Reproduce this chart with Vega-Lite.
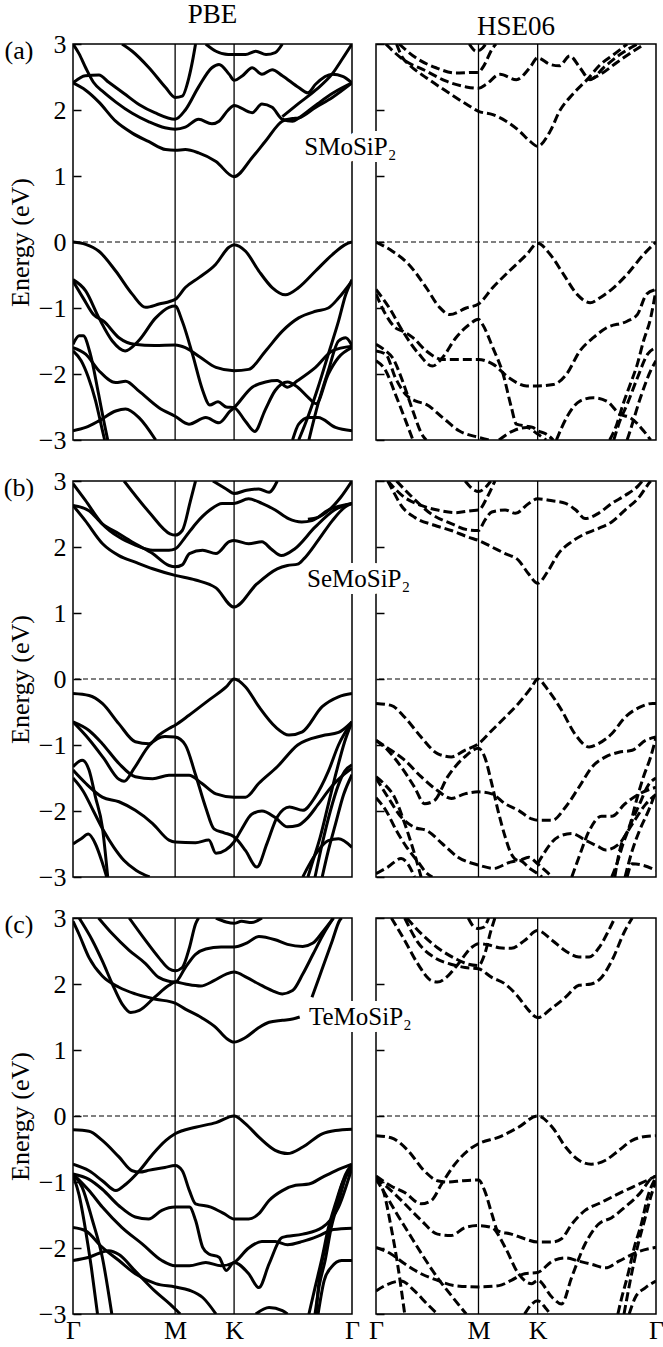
{
"$schema": "https://vega.github.io/schema/vega-lite/v6.json",
"background": "white",
"padding": {"left": 3, "top": 0, "right": 2, "bottom": 0},
"config": {
  "font": "Liberation Serif",
  "view": {"stroke": "black", "strokeWidth": 1.5},
  "title": {"fontSize": 27, "fontWeight": "normal", "font": "Liberation Serif", "color": "black", "offset": 2},
  "text": {"font": "Liberation Serif"},
  "style": {"guide-label": {"font": "Liberation Serif", "fill": "black"}, "guide-title": {"font": "Liberation Serif", "fill": "black"}},
  "axis": {"grid": false, "domain": false, "labelFont": "Liberation Serif", "titleFont": "Liberation Serif", "labelColor": "black", "titleColor": "black", "tickColor": "black", "labelFontSize": 26, "titleFontSize": 26, "titleFontWeight": "normal", "tickWidth": 1.5}
},
"datasets": {
  "kpts": [{"k": 1}, {"k": 1.5774}],
  "zero": [{"E": 0}],
  "tags": [{"row": "a", "t": "(a)", "k": 0, "E": 3}, {"row": "b", "t": "(b)", "k": 0, "E": 3}, {"row": "c", "t": "(c)", "k": 0, "E": 3}],
  "names": [{"row": "a", "t": "SMoSiP₂", "k": -0.70, "E": 1.44}, {"row": "b", "t": "SeMoSiP₂", "k": -0.673, "E": 1.52}, {"row": "c", "t": "TeMoSiP₂", "k": -0.654, "E": 1.50}],
  "bands": [
{"p":"aL","b":1,"k":0,"E":2.41},{"p":"aL","b":1,"k":0.124,"E":2.3},{"p":"aL","b":1,"k":0.254,"E":2.12},{"p":"aL","b":1,"k":0.418,"E":1.83},{"p":"aL","b":1,"k":0.58,"E":1.65},{"p":"aL","b":1,"k":0.744,"E":1.52},{"p":"aL","b":1,"k":0.907,"E":1.4},{"p":"aL","b":1,"k":1,"E":1.39},{"p":"aL","b":1,"k":1.1,"E":1.4},{"p":"aL","b":1,"k":1.23,"E":1.35},{"p":"aL","b":1,"k":1.4,"E":1.22},{"p":"aL","b":1,"k":1.577,"E":0.99},{"p":"aL","b":1,"k":1.755,"E":1.28},{"p":"aL","b":1,"k":1.886,"E":1.53},{"p":"aL","b":1,"k":2.05,"E":1.83},{"p":"aL","b":1,"k":2.15,"E":1.87},{"p":"aL","b":1,"k":2.21,"E":1.88},{"p":"aL","b":1,"k":2.375,"E":2.04},{"p":"aL","b":1,"k":2.54,"E":2.19},{"p":"aL","b":1,"k":2.732,"E":2.41},
{"p":"aL","b":2,"k":0,"E":3.0},{"p":"aL","b":2,"k":0.06,"E":2.85},{"p":"aL","b":2,"k":0.124,"E":2.64},{"p":"aL","b":2,"k":0.2,"E":2.42},{"p":"aL","b":2,"k":0.3,"E":2.27},{"p":"aL","b":2,"k":0.42,"E":2.12},{"p":"aL","b":2,"k":0.58,"E":1.95},{"p":"aL","b":2,"k":0.744,"E":1.82},{"p":"aL","b":2,"k":0.9,"E":1.73},{"p":"aL","b":2,"k":1,"E":1.71},{"p":"aL","b":2,"k":1.1,"E":1.74},{"p":"aL","b":2,"k":1.23,"E":1.86},{"p":"aL","b":2,"k":1.36,"E":1.79},{"p":"aL","b":2,"k":1.43,"E":1.83},{"p":"aL","b":2,"k":1.52,"E":2.0},{"p":"aL","b":2,"k":1.577,"E":2.07},{"p":"aL","b":2,"k":1.755,"E":1.96},{"p":"aL","b":2,"k":1.85,"E":2.09},{"p":"aL","b":2,"k":1.95,"E":2.04},{"p":"aL","b":2,"k":2.05,"E":1.86},{"p":"aL","b":2,"k":2.15,"E":1.83},{"p":"aL","b":2,"k":2.21,"E":1.88},{"p":"aL","b":2,"k":2.4,"E":2.1},{"p":"aL","b":2,"k":2.55,"E":2.26},{"p":"aL","b":2,"k":2.732,"E":2.41},
{"p":"aL","b":3,"k":0,"E":2.41},{"p":"aL","b":3,"k":0.12,"E":2.52},{"p":"aL","b":3,"k":0.254,"E":2.53},{"p":"aL","b":3,"k":0.35,"E":2.42},{"p":"aL","b":3,"k":0.5,"E":2.25},{"p":"aL","b":3,"k":0.65,"E":2.08},{"p":"aL","b":3,"k":0.8,"E":1.96},{"p":"aL","b":3,"k":1,"E":1.86},{"p":"aL","b":3,"k":1.1,"E":2.0},{"p":"aL","b":3,"k":1.23,"E":2.35},{"p":"aL","b":3,"k":1.36,"E":2.64},{"p":"aL","b":3,"k":1.43,"E":2.69},{"p":"aL","b":3,"k":1.53,"E":2.54},{"p":"aL","b":3,"k":1.577,"E":2.45},{"p":"aL","b":3,"k":1.66,"E":2.52},{"p":"aL","b":3,"k":1.755,"E":2.64},{"p":"aL","b":3,"k":1.85,"E":2.54},{"p":"aL","b":3,"k":1.95,"E":2.61},{"p":"aL","b":3,"k":2.05,"E":2.52},{"p":"aL","b":3,"k":2.21,"E":2.34},{"p":"aL","b":3,"k":2.3,"E":2.26},{"p":"aL","b":3,"k":2.375,"E":2.39},{"p":"aL","b":3,"k":2.54,"E":2.54},{"p":"aL","b":3,"k":2.64,"E":2.51},{"p":"aL","b":3,"k":2.732,"E":2.41},
{"p":"aL","b":4,"k":0.48,"E":3.0},{"p":"aL","b":4,"k":0.58,"E":2.89},{"p":"aL","b":4,"k":0.744,"E":2.64},{"p":"aL","b":4,"k":0.907,"E":2.34},{"p":"aL","b":4,"k":1,"E":2.19},{"p":"aL","b":4,"k":1.07,"E":2.21},{"p":"aL","b":4,"k":1.135,"E":2.49},{"p":"aL","b":4,"k":1.17,"E":2.74},{"p":"aL","b":4,"k":1.2,"E":3.0},
{"p":"aL","b":5,"k":1.3,"E":3.0},{"p":"aL","b":5,"k":1.4,"E":2.89},{"p":"aL","b":5,"k":1.52,"E":2.84},{"p":"aL","b":5,"k":1.577,"E":2.84},{"p":"aL","b":5,"k":1.69,"E":2.84},{"p":"aL","b":5,"k":1.79,"E":2.89},{"p":"aL","b":5,"k":1.89,"E":2.84},{"p":"aL","b":5,"k":1.98,"E":2.87},{"p":"aL","b":5,"k":2.05,"E":3.0},
{"p":"aL","b":6,"k":2.05,"E":1.9},{"p":"aL","b":6,"k":2.21,"E":2.1},{"p":"aL","b":6,"k":2.375,"E":2.3},{"p":"aL","b":6,"k":2.54,"E":2.55},{"p":"aL","b":6,"k":2.64,"E":2.78},{"p":"aL","b":6,"k":2.732,"E":3.0},
{"p":"aL","b":7,"k":0,"E":0},{"p":"aL","b":7,"k":0.124,"E":-0.035},{"p":"aL","b":7,"k":0.254,"E":-0.14},{"p":"aL","b":7,"k":0.418,"E":-0.44},{"p":"aL","b":7,"k":0.58,"E":-0.79},{"p":"aL","b":7,"k":0.711,"E":-0.99},{"p":"aL","b":7,"k":0.842,"E":-0.94},{"p":"aL","b":7,"k":1,"E":-0.87},{"p":"aL","b":7,"k":1.1,"E":-0.69},{"p":"aL","b":7,"k":1.233,"E":-0.54},{"p":"aL","b":7,"k":1.396,"E":-0.34},{"p":"aL","b":7,"k":1.527,"E":-0.08},{"p":"aL","b":7,"k":1.577,"E":-0.04},{"p":"aL","b":7,"k":1.69,"E":-0.14},{"p":"aL","b":7,"k":1.82,"E":-0.44},{"p":"aL","b":7,"k":1.95,"E":-0.69},{"p":"aL","b":7,"k":2.08,"E":-0.8},{"p":"aL","b":7,"k":2.21,"E":-0.69},{"p":"aL","b":7,"k":2.375,"E":-0.44},{"p":"aL","b":7,"k":2.54,"E":-0.19},{"p":"aL","b":7,"k":2.67,"E":-0.035},{"p":"aL","b":7,"k":2.732,"E":0},
{"p":"aL","b":8,"k":0,"E":-0.57},{"p":"aL","b":8,"k":0.124,"E":-0.74},{"p":"aL","b":8,"k":0.254,"E":-1.15},{"p":"aL","b":8,"k":0.385,"E":-1.5},{"p":"aL","b":8,"k":0.51,"E":-1.65},{"p":"aL","b":8,"k":0.64,"E":-1.5},{"p":"aL","b":8,"k":0.81,"E":-1.15},{"p":"aL","b":8,"k":0.94,"E":-0.99},{"p":"aL","b":8,"k":1,"E":-0.97},{"p":"aL","b":8,"k":1.07,"E":-1.2},{"p":"aL","b":8,"k":1.17,"E":-1.7},{"p":"aL","b":8,"k":1.27,"E":-2.25},{"p":"aL","b":8,"k":1.34,"E":-2.47},{"p":"aL","b":8,"k":1.42,"E":-2.42},{"p":"aL","b":8,"k":1.5,"E":-2.5},{"p":"aL","b":8,"k":1.577,"E":-2.51},{"p":"aL","b":8,"k":1.69,"E":-2.72},{"p":"aL","b":8,"k":1.78,"E":-2.87},{"p":"aL","b":8,"k":1.88,"E":-2.55},{"p":"aL","b":8,"k":1.98,"E":-2.25},{"p":"aL","b":8,"k":2.1,"E":-2.12},{"p":"aL","b":8,"k":2.2,"E":-2.2},{"p":"aL","b":8,"k":2.3,"E":-2.35},{"p":"aL","b":8,"k":2.38,"E":-2.45},{"p":"aL","b":8,"k":2.5,"E":-2.0},{"p":"aL","b":8,"k":2.6,"E":-1.75},{"p":"aL","b":8,"k":2.732,"E":-1.6},
{"p":"aL","b":9,"k":0,"E":-0.59},{"p":"aL","b":9,"k":0.1,"E":-0.85},{"p":"aL","b":9,"k":0.2,"E":-1.1},{"p":"aL","b":9,"k":0.3,"E":-1.2},{"p":"aL","b":9,"k":0.45,"E":-1.45},{"p":"aL","b":9,"k":0.6,"E":-1.55},{"p":"aL","b":9,"k":0.8,"E":-1.57},{"p":"aL","b":9,"k":1,"E":-1.56},{"p":"aL","b":9,"k":1.1,"E":-1.6},{"p":"aL","b":9,"k":1.25,"E":-1.75},{"p":"aL","b":9,"k":1.4,"E":-1.9},{"p":"aL","b":9,"k":1.577,"E":-1.95},{"p":"aL","b":9,"k":1.72,"E":-1.93},{"p":"aL","b":9,"k":1.886,"E":-1.65},{"p":"aL","b":9,"k":2.05,"E":-1.35},{"p":"aL","b":9,"k":2.21,"E":-1.15},{"p":"aL","b":9,"k":2.375,"E":-1.05},{"p":"aL","b":9,"k":2.5,"E":-1.0},{"p":"aL","b":9,"k":2.6,"E":-0.85},{"p":"aL","b":9,"k":2.732,"E":-0.59},
{"p":"aL","b":10,"k":0,"E":-1.6},{"p":"aL","b":10,"k":0.124,"E":-1.7},{"p":"aL","b":10,"k":0.254,"E":-1.95},{"p":"aL","b":10,"k":0.418,"E":-2.13},{"p":"aL","b":10,"k":0.515,"E":-2.11},{"p":"aL","b":10,"k":0.646,"E":-2.26},{"p":"aL","b":10,"k":0.842,"E":-2.51},{"p":"aL","b":10,"k":1,"E":-2.64},{"p":"aL","b":10,"k":1.135,"E":-2.76},{"p":"aL","b":10,"k":1.3,"E":-2.66},{"p":"aL","b":10,"k":1.43,"E":-2.74},{"p":"aL","b":10,"k":1.54,"E":-2.56},{"p":"aL","b":10,"k":1.577,"E":-2.51},{"p":"aL","b":10,"k":1.755,"E":-2.2},{"p":"aL","b":10,"k":1.886,"E":-2.12},{"p":"aL","b":10,"k":2,"E":-2.1},{"p":"aL","b":10,"k":2.1,"E":-2.2},{"p":"aL","b":10,"k":2.2,"E":-2.1},{"p":"aL","b":10,"k":2.375,"E":-1.9},{"p":"aL","b":10,"k":2.54,"E":-1.65},{"p":"aL","b":10,"k":2.732,"E":-1.58},
{"p":"aL","b":11,"k":0,"E":-1.55},{"p":"aL","b":11,"k":0.06,"E":-1.42},{"p":"aL","b":11,"k":0.1,"E":-1.42},{"p":"aL","b":11,"k":0.17,"E":-1.7},{"p":"aL","b":11,"k":0.25,"E":-2.3},{"p":"aL","b":11,"k":0.3,"E":-2.7},{"p":"aL","b":11,"k":0.34,"E":-3.0},
{"p":"aL","b":12,"k":0,"E":-1.65},{"p":"aL","b":12,"k":0.08,"E":-1.8},{"p":"aL","b":12,"k":0.15,"E":-2.05},{"p":"aL","b":12,"k":0.22,"E":-2.4},{"p":"aL","b":12,"k":0.28,"E":-2.8},{"p":"aL","b":12,"k":0.31,"E":-3.0},
{"p":"aL","b":13,"k":0,"E":-2.86},{"p":"aL","b":13,"k":0.124,"E":-2.81},{"p":"aL","b":13,"k":0.254,"E":-2.71},{"p":"aL","b":13,"k":0.418,"E":-2.56},{"p":"aL","b":13,"k":0.515,"E":-2.53},{"p":"aL","b":13,"k":0.646,"E":-2.66},{"p":"aL","b":13,"k":0.81,"E":-3.0},
{"p":"aL","b":14,"k":2.21,"E":-3.0},{"p":"aL","b":14,"k":2.3,"E":-2.65},{"p":"aL","b":14,"k":2.4,"E":-2.2},{"p":"aL","b":14,"k":2.5,"E":-1.7},{"p":"aL","b":14,"k":2.6,"E":-1.2},{"p":"aL","b":14,"k":2.67,"E":-0.8},{"p":"aL","b":14,"k":2.732,"E":-0.57},
{"p":"aL","b":15,"k":2.31,"E":-3.0},{"p":"aL","b":15,"k":2.4,"E":-2.45},{"p":"aL","b":15,"k":2.5,"E":-1.95},{"p":"aL","b":15,"k":2.6,"E":-1.5},{"p":"aL","b":15,"k":2.67,"E":-1.45},{"p":"aL","b":15,"k":2.732,"E":-1.57},
{"p":"aL","b":16,"k":2.15,"E":-3.0},{"p":"aL","b":16,"k":2.21,"E":-2.76},{"p":"aL","b":16,"k":2.31,"E":-2.66},{"p":"aL","b":16,"k":2.4,"E":-2.66},{"p":"aL","b":16,"k":2.57,"E":-2.81},{"p":"aL","b":16,"k":2.732,"E":-2.86},

{"p":"aR","b":1,"k":0.2,"E":3.0},{"p":"aR","b":1,"k":0.26,"E":2.79},{"p":"aR","b":1,"k":0.32,"E":2.69},{"p":"aR","b":1,"k":0.49,"E":2.49},{"p":"aR","b":1,"k":0.68,"E":2.29},{"p":"aR","b":1,"k":0.88,"E":2.09},{"p":"aR","b":1,"k":1,"E":1.98},{"p":"aR","b":1,"k":1.14,"E":1.93},{"p":"aR","b":1,"k":1.27,"E":1.83},{"p":"aR","b":1,"k":1.4,"E":1.68},{"p":"aR","b":1,"k":1.5,"E":1.53},{"p":"aR","b":1,"k":1.577,"E":1.45},{"p":"aR","b":1,"k":1.7,"E":1.68},{"p":"aR","b":1,"k":1.79,"E":1.98},{"p":"aR","b":1,"k":1.92,"E":2.24},{"p":"aR","b":1,"k":2.06,"E":2.46},{"p":"aR","b":1,"k":2.19,"E":2.69},{"p":"aR","b":1,"k":2.32,"E":2.84},{"p":"aR","b":1,"k":2.45,"E":3.0},
{"p":"aR","b":2,"k":0.095,"E":3.0},{"p":"aR","b":2,"k":0.26,"E":2.77},{"p":"aR","b":2,"k":0.49,"E":2.59},{"p":"aR","b":2,"k":0.68,"E":2.44},{"p":"aR","b":2,"k":0.88,"E":2.35},{"p":"aR","b":2,"k":1,"E":2.33},{"p":"aR","b":2,"k":1.075,"E":2.39},{"p":"aR","b":2,"k":1.21,"E":2.54},{"p":"aR","b":2,"k":1.37,"E":2.46},{"p":"aR","b":2,"k":1.5,"E":2.64},{"p":"aR","b":2,"k":1.577,"E":2.79},{"p":"aR","b":2,"k":1.7,"E":2.69},{"p":"aR","b":2,"k":1.79,"E":2.67},{"p":"aR","b":2,"k":1.89,"E":2.82},{"p":"aR","b":2,"k":1.99,"E":2.64},{"p":"aR","b":2,"k":2.09,"E":2.46},{"p":"aR","b":2,"k":2.22,"E":2.64},{"p":"aR","b":2,"k":2.38,"E":2.84},{"p":"aR","b":2,"k":2.55,"E":3.0},
{"p":"aR","b":3,"k":0.225,"E":3.0},{"p":"aR","b":3,"k":0.39,"E":2.79},{"p":"aR","b":3,"k":0.585,"E":2.64},{"p":"aR","b":3,"k":0.78,"E":2.56},{"p":"aR","b":3,"k":0.95,"E":2.57},{"p":"aR","b":3,"k":1,"E":2.57},{"p":"aR","b":3,"k":1.04,"E":2.64},{"p":"aR","b":3,"k":1.14,"E":2.94},{"p":"aR","b":3,"k":1.17,"E":3.0},
{"p":"aR","b":4,"k":0.91,"E":3.0},{"p":"aR","b":4,"k":0.98,"E":2.89},{"p":"aR","b":4,"k":1.04,"E":2.94},{"p":"aR","b":4,"k":1.07,"E":3.0},
{"p":"aR","b":5,"k":2.09,"E":2.46},{"p":"aR","b":5,"k":2.2,"E":2.55},{"p":"aR","b":5,"k":2.35,"E":2.72},{"p":"aR","b":5,"k":2.5,"E":2.88},{"p":"aR","b":5,"k":2.62,"E":3.0},
{"p":"aR","b":6,"k":0,"E":0},{"p":"aR","b":6,"k":0.16,"E":-0.14},{"p":"aR","b":6,"k":0.32,"E":-0.34},{"p":"aR","b":6,"k":0.49,"E":-0.69},{"p":"aR","b":6,"k":0.62,"E":-0.99},{"p":"aR","b":6,"k":0.72,"E":-1.1},{"p":"aR","b":6,"k":0.88,"E":-1.0},{"p":"aR","b":6,"k":1,"E":-0.94},{"p":"aR","b":6,"k":1.14,"E":-0.69},{"p":"aR","b":6,"k":1.3,"E":-0.44},{"p":"aR","b":6,"k":1.47,"E":-0.19},{"p":"aR","b":6,"k":1.577,"E":-0.02},{"p":"aR","b":6,"k":1.7,"E":-0.19},{"p":"aR","b":6,"k":1.83,"E":-0.49},{"p":"aR","b":6,"k":1.96,"E":-0.79},{"p":"aR","b":6,"k":2.09,"E":-0.92},{"p":"aR","b":6,"k":2.19,"E":-0.84},{"p":"aR","b":6,"k":2.32,"E":-0.69},{"p":"aR","b":6,"k":2.45,"E":-0.49},{"p":"aR","b":6,"k":2.61,"E":-0.19},{"p":"aR","b":6,"k":2.732,"E":0},
{"p":"aR","b":7,"k":0,"E":-0.72},{"p":"aR","b":7,"k":0.13,"E":-1.0},{"p":"aR","b":7,"k":0.26,"E":-1.35},{"p":"aR","b":7,"k":0.42,"E":-1.7},{"p":"aR","b":7,"k":0.55,"E":-1.88},{"p":"aR","b":7,"k":0.65,"E":-1.75},{"p":"aR","b":7,"k":0.78,"E":-1.45},{"p":"aR","b":7,"k":0.91,"E":-1.25},{"p":"aR","b":7,"k":1,"E":-1.17},{"p":"aR","b":7,"k":1.04,"E":-1.25},{"p":"aR","b":7,"k":1.14,"E":-1.6},{"p":"aR","b":7,"k":1.24,"E":-2.0},{"p":"aR","b":7,"k":1.32,"E":-2.5},{"p":"aR","b":7,"k":1.37,"E":-2.76},{"p":"aR","b":7,"k":1.47,"E":-2.79},{"p":"aR","b":7,"k":1.53,"E":-2.81},{"p":"aR","b":7,"k":1.577,"E":-2.86},{"p":"aR","b":7,"k":1.66,"E":-2.91},{"p":"aR","b":7,"k":1.73,"E":-3.0},
{"p":"aR","b":8,"k":0,"E":-0.79},{"p":"aR","b":8,"k":0.095,"E":-1.1},{"p":"aR","b":8,"k":0.19,"E":-1.3},{"p":"aR","b":8,"k":0.26,"E":-1.35},{"p":"aR","b":8,"k":0.36,"E":-1.45},{"p":"aR","b":8,"k":0.49,"E":-1.65},{"p":"aR","b":8,"k":0.65,"E":-1.78},{"p":"aR","b":8,"k":0.81,"E":-1.78},{"p":"aR","b":8,"k":1,"E":-1.78},{"p":"aR","b":8,"k":1.14,"E":-1.85},{"p":"aR","b":8,"k":1.3,"E":-2.06},{"p":"aR","b":8,"k":1.47,"E":-2.18},{"p":"aR","b":8,"k":1.577,"E":-2.18},{"p":"aR","b":8,"k":1.73,"E":-2.16},{"p":"aR","b":8,"k":1.86,"E":-2.0},{"p":"aR","b":8,"k":1.99,"E":-1.65},{"p":"aR","b":8,"k":2.12,"E":-1.45},{"p":"aR","b":8,"k":2.25,"E":-1.3},{"p":"aR","b":8,"k":2.45,"E":-1.2},{"p":"aR","b":8,"k":2.55,"E":-1.1},{"p":"aR","b":8,"k":2.64,"E":-0.79},{"p":"aR","b":8,"k":2.732,"E":-0.72},
{"p":"aR","b":9,"k":0,"E":-1.65},{"p":"aR","b":9,"k":0.095,"E":-1.7},{"p":"aR","b":9,"k":0.19,"E":-2.06},{"p":"aR","b":9,"k":0.29,"E":-2.31},{"p":"aR","b":9,"k":0.39,"E":-2.41},{"p":"aR","b":9,"k":0.49,"E":-2.46},{"p":"aR","b":9,"k":0.65,"E":-2.66},{"p":"aR","b":9,"k":0.81,"E":-2.86},{"p":"aR","b":9,"k":1,"E":-2.96},{"p":"aR","b":9,"k":1.1,"E":-3.0},
{"p":"aR","b":10,"k":0,"E":-1.55},{"p":"aR","b":10,"k":0.095,"E":-1.65},{"p":"aR","b":10,"k":0.16,"E":-1.75},{"p":"aR","b":10,"k":0.26,"E":-2.11},{"p":"aR","b":10,"k":0.36,"E":-2.56},{"p":"aR","b":10,"k":0.45,"E":-2.92},{"p":"aR","b":10,"k":0.49,"E":-3.0},
{"p":"aR","b":11,"k":0,"E":-1.8},{"p":"aR","b":11,"k":0.095,"E":-1.95},{"p":"aR","b":11,"k":0.19,"E":-2.31},{"p":"aR","b":11,"k":0.29,"E":-2.71},{"p":"aR","b":11,"k":0.36,"E":-3.0},
{"p":"aR","b":12,"k":2.32,"E":-3.0},{"p":"aR","b":12,"k":2.38,"E":-2.71},{"p":"aR","b":12,"k":2.45,"E":-2.46},{"p":"aR","b":12,"k":2.55,"E":-2.06},{"p":"aR","b":12,"k":2.65,"E":-1.7},{"p":"aR","b":12,"k":2.732,"E":-1.6},
{"p":"aR","b":13,"k":2.45,"E":-3.0},{"p":"aR","b":13,"k":2.48,"E":-2.86},{"p":"aR","b":13,"k":2.58,"E":-2.36},{"p":"aR","b":13,"k":2.68,"E":-1.95},{"p":"aR","b":13,"k":2.732,"E":-1.8},
{"p":"aR","b":14,"k":2.28,"E":-3.0},{"p":"aR","b":14,"k":2.35,"E":-2.76},{"p":"aR","b":14,"k":2.41,"E":-2.46},{"p":"aR","b":14,"k":2.48,"E":-2.16},{"p":"aR","b":14,"k":2.55,"E":-1.85},{"p":"aR","b":14,"k":2.61,"E":-1.5},{"p":"aR","b":14,"k":2.68,"E":-1.15},{"p":"aR","b":14,"k":2.732,"E":-0.72},
{"p":"aR","b":15,"k":1.76,"E":-3.0},{"p":"aR","b":15,"k":1.86,"E":-2.66},{"p":"aR","b":15,"k":1.99,"E":-2.41},{"p":"aR","b":15,"k":2.12,"E":-2.36},{"p":"aR","b":15,"k":2.25,"E":-2.41},{"p":"aR","b":15,"k":2.38,"E":-2.61},{"p":"aR","b":15,"k":2.48,"E":-2.66},{"p":"aR","b":15,"k":2.61,"E":-2.86},{"p":"aR","b":15,"k":2.68,"E":-3.0},
{"p":"aR","b":16,"k":1.2,"E":-3.0},{"p":"aR","b":16,"k":1.34,"E":-2.86},{"p":"aR","b":16,"k":1.47,"E":-2.81},{"p":"aR","b":16,"k":1.577,"E":-2.91},{"p":"aR","b":16,"k":1.66,"E":-3.0},

{"p":"bL","b":1,"k":0,"E":2.63},{"p":"bL","b":1,"k":0.12,"E":2.4},{"p":"bL","b":1,"k":0.29,"E":2.05},{"p":"bL","b":1,"k":0.45,"E":1.87},{"p":"bL","b":1,"k":0.61,"E":1.77},{"p":"bL","b":1,"k":0.78,"E":1.67},{"p":"bL","b":1,"k":1,"E":1.57},{"p":"bL","b":1,"k":1.2,"E":1.5},{"p":"bL","b":1,"k":1.4,"E":1.38},{"p":"bL","b":1,"k":1.577,"E":1.09},{"p":"bL","b":1,"k":1.8,"E":1.44},{"p":"bL","b":1,"k":2,"E":1.67},{"p":"bL","b":1,"k":2.1,"E":1.72},{"p":"bL","b":1,"k":2.2,"E":1.74},{"p":"bL","b":1,"k":2.26,"E":1.82},{"p":"bL","b":1,"k":2.4,"E":2.1},{"p":"bL","b":1,"k":2.54,"E":2.4},{"p":"bL","b":1,"k":2.66,"E":2.6},{"p":"bL","b":1,"k":2.732,"E":2.66},
{"p":"bL","b":2,"k":0,"E":2.63},{"p":"bL","b":2,"k":0.157,"E":2.55},{"p":"bL","b":2,"k":0.287,"E":2.35},{"p":"bL","b":2,"k":0.45,"E":2.2},{"p":"bL","b":2,"k":0.61,"E":2.05},{"p":"bL","b":2,"k":0.78,"E":1.9},{"p":"bL","b":2,"k":0.94,"E":1.72},{"p":"bL","b":2,"k":1,"E":1.7},{"p":"bL","b":2,"k":1.07,"E":1.73},{"p":"bL","b":2,"k":1.14,"E":1.9},{"p":"bL","b":2,"k":1.27,"E":1.95},{"p":"bL","b":2,"k":1.4,"E":1.9},{"p":"bL","b":2,"k":1.53,"E":2.08},{"p":"bL","b":2,"k":1.577,"E":2.1},{"p":"bL","b":2,"k":1.72,"E":2.05},{"p":"bL","b":2,"k":1.85,"E":2.08},{"p":"bL","b":2,"k":1.94,"E":1.97},{"p":"bL","b":2,"k":2.04,"E":1.87},{"p":"bL","b":2,"k":2.17,"E":1.97},{"p":"bL","b":2,"k":2.37,"E":2.3},{"p":"bL","b":2,"k":2.56,"E":2.56},{"p":"bL","b":2,"k":2.732,"E":2.66},
{"p":"bL","b":3,"k":0,"E":2.96},{"p":"bL","b":3,"k":0.12,"E":2.71},{"p":"bL","b":3,"k":0.287,"E":2.35},{"p":"bL","b":3,"k":0.45,"E":2.15},{"p":"bL","b":3,"k":0.61,"E":2.03},{"p":"bL","b":3,"k":0.78,"E":1.95},{"p":"bL","b":3,"k":0.94,"E":1.95},{"p":"bL","b":3,"k":1,"E":1.97},{"p":"bL","b":3,"k":1.1,"E":2.15},{"p":"bL","b":3,"k":1.2,"E":2.35},{"p":"bL","b":3,"k":1.34,"E":2.56},{"p":"bL","b":3,"k":1.46,"E":2.66},{"p":"bL","b":3,"k":1.577,"E":2.66},{"p":"bL","b":3,"k":1.72,"E":2.73},{"p":"bL","b":3,"k":1.85,"E":2.66},{"p":"bL","b":3,"k":1.98,"E":2.56},{"p":"bL","b":3,"k":2.11,"E":2.43},{"p":"bL","b":3,"k":2.24,"E":2.38},{"p":"bL","b":3,"k":2.34,"E":2.4},{"p":"bL","b":3,"k":2.5,"E":2.56},{"p":"bL","b":3,"k":2.732,"E":2.66},
{"p":"bL","b":4,"k":0.5,"E":3.0},{"p":"bL","b":4,"k":0.75,"E":2.52},{"p":"bL","b":4,"k":0.95,"E":2.2},{"p":"bL","b":4,"k":1,"E":2.18},{"p":"bL","b":4,"k":1.07,"E":2.25},{"p":"bL","b":4,"k":1.15,"E":2.7},{"p":"bL","b":4,"k":1.2,"E":3.0},
{"p":"bL","b":5,"k":1.37,"E":3.0},{"p":"bL","b":5,"k":1.5,"E":2.88},{"p":"bL","b":5,"k":1.577,"E":2.81},{"p":"bL","b":5,"k":1.7,"E":2.86},{"p":"bL","b":5,"k":1.82,"E":2.88},{"p":"bL","b":5,"k":1.92,"E":2.83},{"p":"bL","b":5,"k":2,"E":3.0},
{"p":"bL","b":6,"k":2.3,"E":2.42},{"p":"bL","b":6,"k":2.4,"E":2.45},{"p":"bL","b":6,"k":2.5,"E":2.55},{"p":"bL","b":6,"k":2.62,"E":2.75},{"p":"bL","b":6,"k":2.732,"E":3.0},
{"p":"bL","b":7,"k":0,"E":-0.22},{"p":"bL","b":7,"k":0.157,"E":-0.25},{"p":"bL","b":7,"k":0.287,"E":-0.37},{"p":"bL","b":7,"k":0.45,"E":-0.68},{"p":"bL","b":7,"k":0.61,"E":-0.95},{"p":"bL","b":7,"k":0.744,"E":-0.98},{"p":"bL","b":7,"k":0.84,"E":-0.85},{"p":"bL","b":7,"k":0.94,"E":-0.75},{"p":"bL","b":7,"k":1,"E":-0.7},{"p":"bL","b":7,"k":1.136,"E":-0.55},{"p":"bL","b":7,"k":1.33,"E":-0.32},{"p":"bL","b":7,"k":1.5,"E":-0.12},{"p":"bL","b":7,"k":1.577,"E":0},{"p":"bL","b":7,"k":1.69,"E":-0.12},{"p":"bL","b":7,"k":1.82,"E":-0.42},{"p":"bL","b":7,"k":1.985,"E":-0.73},{"p":"bL","b":7,"k":2.115,"E":-0.85},{"p":"bL","b":7,"k":2.246,"E":-0.8},{"p":"bL","b":7,"k":2.44,"E":-0.42},{"p":"bL","b":7,"k":2.6,"E":-0.27},{"p":"bL","b":7,"k":2.732,"E":-0.22},
{"p":"bL","b":8,"k":0,"E":-0.65},{"p":"bL","b":8,"k":0.16,"E":-0.92},{"p":"bL","b":8,"k":0.3,"E":-1.2},{"p":"bL","b":8,"k":0.45,"E":-1.52},{"p":"bL","b":8,"k":0.5,"E":-1.55},{"p":"bL","b":8,"k":0.6,"E":-1.35},{"p":"bL","b":8,"k":0.75,"E":-1.0},{"p":"bL","b":8,"k":0.9,"E":-0.87},{"p":"bL","b":8,"k":1,"E":-0.88},{"p":"bL","b":8,"k":1.1,"E":-1.0},{"p":"bL","b":8,"k":1.2,"E":-1.45},{"p":"bL","b":8,"k":1.3,"E":-1.95},{"p":"bL","b":8,"k":1.38,"E":-2.27},{"p":"bL","b":8,"k":1.48,"E":-2.33},{"p":"bL","b":8,"k":1.577,"E":-2.39},{"p":"bL","b":8,"k":1.69,"E":-2.6},{"p":"bL","b":8,"k":1.8,"E":-2.85},{"p":"bL","b":8,"k":1.9,"E":-2.49},{"p":"bL","b":8,"k":2,"E":-2.09},{"p":"bL","b":8,"k":2.12,"E":-1.94},{"p":"bL","b":8,"k":2.25,"E":-1.99},{"p":"bL","b":8,"k":2.37,"E":-1.79},{"p":"bL","b":8,"k":2.5,"E":-1.4},{"p":"bL","b":8,"k":2.6,"E":-1.0},{"p":"bL","b":8,"k":2.732,"E":-0.65},
{"p":"bL","b":9,"k":0,"E":-0.65},{"p":"bL","b":9,"k":0.157,"E":-0.78},{"p":"bL","b":9,"k":0.287,"E":-0.98},{"p":"bL","b":9,"k":0.45,"E":-1.28},{"p":"bL","b":9,"k":0.61,"E":-1.48},{"p":"bL","b":9,"k":0.78,"E":-1.51},{"p":"bL","b":9,"k":0.94,"E":-1.46},{"p":"bL","b":9,"k":1,"E":-1.46},{"p":"bL","b":9,"k":1.136,"E":-1.46},{"p":"bL","b":9,"k":1.26,"E":-1.58},{"p":"bL","b":9,"k":1.4,"E":-1.74},{"p":"bL","b":9,"k":1.577,"E":-1.79},{"p":"bL","b":9,"k":1.69,"E":-1.79},{"p":"bL","b":9,"k":1.82,"E":-1.58},{"p":"bL","b":9,"k":2,"E":-1.33},{"p":"bL","b":9,"k":2.2,"E":-1.0},{"p":"bL","b":9,"k":2.44,"E":-0.86},{"p":"bL","b":9,"k":2.6,"E":-0.81},{"p":"bL","b":9,"k":2.732,"E":-0.65},
{"p":"bL","b":10,"k":0,"E":-1.33},{"p":"bL","b":10,"k":0.09,"E":-1.23},{"p":"bL","b":10,"k":0.157,"E":-1.38},{"p":"bL","b":10,"k":0.22,"E":-1.79},{"p":"bL","b":10,"k":0.287,"E":-2.24},{"p":"bL","b":10,"k":0.34,"E":-3.0},
{"p":"bL","b":11,"k":0,"E":-1.38},{"p":"bL","b":11,"k":0.124,"E":-1.58},{"p":"bL","b":11,"k":0.287,"E":-1.79},{"p":"bL","b":11,"k":0.45,"E":-1.86},{"p":"bL","b":11,"k":0.61,"E":-1.99},{"p":"bL","b":11,"k":0.78,"E":-2.19},{"p":"bL","b":11,"k":0.94,"E":-2.44},{"p":"bL","b":11,"k":1,"E":-2.47},{"p":"bL","b":11,"k":1.2,"E":-2.48},{"p":"bL","b":11,"k":1.33,"E":-2.44},{"p":"bL","b":11,"k":1.4,"E":-2.64},{"p":"bL","b":11,"k":1.495,"E":-2.59},{"p":"bL","b":11,"k":1.577,"E":-2.47},{"p":"bL","b":11,"k":1.65,"E":-2.28},{"p":"bL","b":11,"k":1.75,"E":-2.05},{"p":"bL","b":11,"k":1.85,"E":-2.0},{"p":"bL","b":11,"k":1.98,"E":-2.1},{"p":"bL","b":11,"k":2.1,"E":-2.24},{"p":"bL","b":11,"k":2.2,"E":-2.22},{"p":"bL","b":11,"k":2.3,"E":-2.1},{"p":"bL","b":11,"k":2.4,"E":-1.9},{"p":"bL","b":11,"k":2.55,"E":-1.6},{"p":"bL","b":11,"k":2.65,"E":-1.45},{"p":"bL","b":11,"k":2.732,"E":-1.35},
{"p":"bL","b":12,"k":0,"E":-1.5},{"p":"bL","b":12,"k":0.1,"E":-1.7},{"p":"bL","b":12,"k":0.2,"E":-2.0},{"p":"bL","b":12,"k":0.3,"E":-2.3},{"p":"bL","b":12,"k":0.4,"E":-2.55},{"p":"bL","b":12,"k":0.5,"E":-2.75},{"p":"bL","b":12,"k":0.62,"E":-2.9},{"p":"bL","b":12,"k":0.75,"E":-3.0},
{"p":"bL","b":13,"k":0,"E":-2.5},{"p":"bL","b":13,"k":0.08,"E":-2.42},{"p":"bL","b":13,"k":0.15,"E":-2.35},{"p":"bL","b":13,"k":0.22,"E":-2.5},{"p":"bL","b":13,"k":0.28,"E":-2.75},{"p":"bL","b":13,"k":0.33,"E":-3.0},
{"p":"bL","b":14,"k":2.3,"E":-3.0},{"p":"bL","b":14,"k":2.34,"E":-2.8},{"p":"bL","b":14,"k":2.42,"E":-2.4},{"p":"bL","b":14,"k":2.5,"E":-1.9},{"p":"bL","b":14,"k":2.58,"E":-1.4},{"p":"bL","b":14,"k":2.66,"E":-0.95},{"p":"bL","b":14,"k":2.732,"E":-0.65},
{"p":"bL","b":15,"k":2.37,"E":-3.0},{"p":"bL","b":15,"k":2.44,"E":-2.5},{"p":"bL","b":15,"k":2.52,"E":-2.0},{"p":"bL","b":15,"k":2.6,"E":-1.6},{"p":"bL","b":15,"k":2.66,"E":-1.4},{"p":"bL","b":15,"k":2.732,"E":-1.3},
{"p":"bL","b":16,"k":2.44,"E":-3.0},{"p":"bL","b":16,"k":2.5,"E":-2.6},{"p":"bL","b":16,"k":2.57,"E":-2.2},{"p":"bL","b":16,"k":2.65,"E":-1.75},{"p":"bL","b":16,"k":2.732,"E":-1.45},
{"p":"bL","b":17,"k":2.25,"E":-3.0},{"p":"bL","b":17,"k":2.3,"E":-2.85},{"p":"bL","b":17,"k":2.4,"E":-2.6},{"p":"bL","b":17,"k":2.5,"E":-2.45},{"p":"bL","b":17,"k":2.6,"E":-2.42},{"p":"bL","b":17,"k":2.732,"E":-2.55},

{"p":"bR","b":1,"k":0.115,"E":3.0},{"p":"bR","b":1,"k":0.18,"E":2.81},{"p":"bR","b":1,"k":0.245,"E":2.63},{"p":"bR","b":1,"k":0.376,"E":2.45},{"p":"bR","b":1,"k":0.57,"E":2.33},{"p":"bR","b":1,"k":0.735,"E":2.25},{"p":"bR","b":1,"k":0.9,"E":2.15},{"p":"bR","b":1,"k":1,"E":2.1},{"p":"bR","b":1,"k":1.13,"E":2.0},{"p":"bR","b":1,"k":1.26,"E":1.9},{"p":"bR","b":1,"k":1.39,"E":1.8},{"p":"bR","b":1,"k":1.49,"E":1.59},{"p":"bR","b":1,"k":1.577,"E":1.45},{"p":"bR","b":1,"k":1.68,"E":1.64},{"p":"bR","b":1,"k":1.78,"E":1.9},{"p":"bR","b":1,"k":1.91,"E":2.08},{"p":"bR","b":1,"k":2.04,"E":2.2},{"p":"bR","b":1,"k":2.17,"E":2.28},{"p":"bR","b":1,"k":2.3,"E":2.38},{"p":"bR","b":1,"k":2.43,"E":2.56},{"p":"bR","b":1,"k":2.57,"E":2.76},{"p":"bR","b":1,"k":2.66,"E":2.96},{"p":"bR","b":1,"k":2.68,"E":3.0},
{"p":"bR","b":2,"k":0.2,"E":3.0},{"p":"bR","b":2,"k":0.35,"E":2.76},{"p":"bR","b":2,"k":0.54,"E":2.5},{"p":"bR","b":2,"k":0.74,"E":2.35},{"p":"bR","b":2,"k":0.9,"E":2.26},{"p":"bR","b":2,"k":1,"E":2.25},{"p":"bR","b":2,"k":1.06,"E":2.4},{"p":"bR","b":2,"k":1.13,"E":2.53},{"p":"bR","b":2,"k":1.26,"E":2.56},{"p":"bR","b":2,"k":1.36,"E":2.51},{"p":"bR","b":2,"k":1.49,"E":2.66},{"p":"bR","b":2,"k":1.577,"E":2.73},{"p":"bR","b":2,"k":1.72,"E":2.7},{"p":"bR","b":2,"k":1.85,"E":2.66},{"p":"bR","b":2,"k":1.95,"E":2.56},{"p":"bR","b":2,"k":2.04,"E":2.43},{"p":"bR","b":2,"k":2.17,"E":2.51},{"p":"bR","b":2,"k":2.3,"E":2.66},{"p":"bR","b":2,"k":2.43,"E":2.78},{"p":"bR","b":2,"k":2.56,"E":2.93},{"p":"bR","b":2,"k":2.6,"E":3.0},
{"p":"bR","b":3,"k":0.115,"E":3.0},{"p":"bR","b":3,"k":0.28,"E":2.75},{"p":"bR","b":3,"k":0.44,"E":2.63},{"p":"bR","b":3,"k":0.6,"E":2.56},{"p":"bR","b":3,"k":0.77,"E":2.52},{"p":"bR","b":3,"k":0.93,"E":2.55},{"p":"bR","b":3,"k":1,"E":2.56},{"p":"bR","b":3,"k":1.09,"E":2.77},{"p":"bR","b":3,"k":1.16,"E":3.0},
{"p":"bR","b":4,"k":0.87,"E":3.0},{"p":"bR","b":4,"k":0.96,"E":2.86},{"p":"bR","b":4,"k":1,"E":2.84},{"p":"bR","b":4,"k":1.06,"E":2.89},{"p":"bR","b":4,"k":1.12,"E":3.0},
{"p":"bR","b":5,"k":0,"E":-0.37},{"p":"bR","b":5,"k":0.147,"E":-0.4},{"p":"bR","b":5,"k":0.28,"E":-0.58},{"p":"bR","b":5,"k":0.44,"E":-0.88},{"p":"bR","b":5,"k":0.6,"E":-1.13},{"p":"bR","b":5,"k":0.735,"E":-1.18},{"p":"bR","b":5,"k":0.866,"E":-1.08},{"p":"bR","b":5,"k":1,"E":-0.98},{"p":"bR","b":5,"k":1.13,"E":-0.78},{"p":"bR","b":5,"k":1.26,"E":-0.58},{"p":"bR","b":5,"k":1.39,"E":-0.37},{"p":"bR","b":5,"k":1.52,"E":-0.12},{"p":"bR","b":5,"k":1.577,"E":0},{"p":"bR","b":5,"k":1.68,"E":-0.17},{"p":"bR","b":5,"k":1.81,"E":-0.47},{"p":"bR","b":5,"k":1.94,"E":-0.83},{"p":"bR","b":5,"k":2.08,"E":-1.03},{"p":"bR","b":5,"k":2.17,"E":-0.98},{"p":"bR","b":5,"k":2.3,"E":-0.83},{"p":"bR","b":5,"k":2.43,"E":-0.58},{"p":"bR","b":5,"k":2.57,"E":-0.43},{"p":"bR","b":5,"k":2.7,"E":-0.37},{"p":"bR","b":5,"k":2.732,"E":-0.37},
{"p":"bR","b":6,"k":0,"E":-0.93},{"p":"bR","b":6,"k":0.115,"E":-1.08},{"p":"bR","b":6,"k":0.245,"E":-1.33},{"p":"bR","b":6,"k":0.376,"E":-1.64},{"p":"bR","b":6,"k":0.475,"E":-1.89},{"p":"bR","b":6,"k":0.57,"E":-1.84},{"p":"bR","b":6,"k":0.7,"E":-1.48},{"p":"bR","b":6,"k":0.866,"E":-1.18},{"p":"bR","b":6,"k":1,"E":-1.05},{"p":"bR","b":6,"k":1.06,"E":-1.18},{"p":"bR","b":6,"k":1.13,"E":-1.59},{"p":"bR","b":6,"k":1.19,"E":-1.99},{"p":"bR","b":6,"k":1.26,"E":-2.39},{"p":"bR","b":6,"k":1.32,"E":-2.65},{"p":"bR","b":6,"k":1.39,"E":-2.75},{"p":"bR","b":6,"k":1.49,"E":-2.7},{"p":"bR","b":6,"k":1.577,"E":-2.8},{"p":"bR","b":6,"k":1.65,"E":-2.9},{"p":"bR","b":6,"k":1.72,"E":-3.0},
{"p":"bR","b":7,"k":0,"E":-0.93},{"p":"bR","b":7,"k":0.147,"E":-1.08},{"p":"bR","b":7,"k":0.28,"E":-1.23},{"p":"bR","b":7,"k":0.44,"E":-1.48},{"p":"bR","b":7,"k":0.6,"E":-1.69},{"p":"bR","b":7,"k":0.735,"E":-1.81},{"p":"bR","b":7,"k":0.866,"E":-1.74},{"p":"bR","b":7,"k":1,"E":-1.71},{"p":"bR","b":7,"k":1.13,"E":-1.74},{"p":"bR","b":7,"k":1.26,"E":-1.89},{"p":"bR","b":7,"k":1.39,"E":-1.99},{"p":"bR","b":7,"k":1.52,"E":-2.12},{"p":"bR","b":7,"k":1.577,"E":-2.14},{"p":"bR","b":7,"k":1.72,"E":-2.14},{"p":"bR","b":7,"k":1.85,"E":-1.94},{"p":"bR","b":7,"k":1.98,"E":-1.64},{"p":"bR","b":7,"k":2.11,"E":-1.33},{"p":"bR","b":7,"k":2.24,"E":-1.18},{"p":"bR","b":7,"k":2.37,"E":-1.11},{"p":"bR","b":7,"k":2.5,"E":-1.08},{"p":"bR","b":7,"k":2.63,"E":-0.93},{"p":"bR","b":7,"k":2.732,"E":-0.88},
{"p":"bR","b":8,"k":0,"E":-1.48},{"p":"bR","b":8,"k":0.08,"E":-1.59},{"p":"bR","b":8,"k":0.18,"E":-1.79},{"p":"bR","b":8,"k":0.28,"E":-2.19},{"p":"bR","b":8,"k":0.376,"E":-2.65},{"p":"bR","b":8,"k":0.44,"E":-3.0},
{"p":"bR","b":9,"k":0,"E":-1.5},{"p":"bR","b":9,"k":0.12,"E":-1.8},{"p":"bR","b":9,"k":0.25,"E":-2.1},{"p":"bR","b":9,"k":0.38,"E":-2.25},{"p":"bR","b":9,"k":0.5,"E":-2.3},{"p":"bR","b":9,"k":0.65,"E":-2.5},{"p":"bR","b":9,"k":0.8,"E":-2.7},{"p":"bR","b":9,"k":1,"E":-2.82},{"p":"bR","b":9,"k":1.15,"E":-2.87},{"p":"bR","b":9,"k":1.3,"E":-2.78},{"p":"bR","b":9,"k":1.4,"E":-2.75},{"p":"bR","b":9,"k":1.5,"E":-2.87},{"p":"bR","b":9,"k":1.577,"E":-2.95},{"p":"bR","b":9,"k":1.62,"E":-3.0},
{"p":"bR","b":10,"k":0,"E":-1.8},{"p":"bR","b":10,"k":0.1,"E":-2.0},{"p":"bR","b":10,"k":0.2,"E":-2.3},{"p":"bR","b":10,"k":0.3,"E":-2.55},{"p":"bR","b":10,"k":0.4,"E":-2.75},{"p":"bR","b":10,"k":0.5,"E":-2.95},{"p":"bR","b":10,"k":0.55,"E":-3.0},
{"p":"bR","b":11,"k":0,"E":-2.95},{"p":"bR","b":11,"k":0.115,"E":-2.85},{"p":"bR","b":11,"k":0.245,"E":-2.72},{"p":"bR","b":11,"k":0.31,"E":-2.8},{"p":"bR","b":11,"k":0.376,"E":-3.0},
{"p":"bR","b":12,"k":1.577,"E":-2.8},{"p":"bR","b":12,"k":1.78,"E":-2.39},{"p":"bR","b":12,"k":1.91,"E":-2.34},{"p":"bR","b":12,"k":2.04,"E":-2.44},{"p":"bR","b":12,"k":2.17,"E":-2.54},{"p":"bR","b":12,"k":2.24,"E":-2.59},{"p":"bR","b":12,"k":2.37,"E":-2.5},{"p":"bR","b":12,"k":2.5,"E":-2.2},{"p":"bR","b":12,"k":2.63,"E":-1.9},{"p":"bR","b":12,"k":2.732,"E":-1.75},
{"p":"bR","b":13,"k":1.91,"E":-3.0},{"p":"bR","b":13,"k":1.98,"E":-2.7},{"p":"bR","b":13,"k":2.08,"E":-2.3},{"p":"bR","b":13,"k":2.2,"E":-2.08},{"p":"bR","b":13,"k":2.3,"E":-2.08},{"p":"bR","b":13,"k":2.43,"E":-1.89},{"p":"bR","b":13,"k":2.57,"E":-1.74},{"p":"bR","b":13,"k":2.732,"E":-1.64},
{"p":"bR","b":14,"k":2.3,"E":-3.0},{"p":"bR","b":14,"k":2.35,"E":-2.8},{"p":"bR","b":14,"k":2.41,"E":-2.5},{"p":"bR","b":14,"k":2.48,"E":-2.2},{"p":"bR","b":14,"k":2.55,"E":-1.79},{"p":"bR","b":14,"k":2.61,"E":-1.48},{"p":"bR","b":14,"k":2.68,"E":-1.18},{"p":"bR","b":14,"k":2.732,"E":-0.88},
{"p":"bR","b":15,"k":2.33,"E":-3.0},{"p":"bR","b":15,"k":2.37,"E":-2.65},{"p":"bR","b":15,"k":2.47,"E":-2.25},{"p":"bR","b":15,"k":2.57,"E":-1.9},{"p":"bR","b":15,"k":2.66,"E":-1.6},{"p":"bR","b":15,"k":2.732,"E":-1.5},
{"p":"bR","b":16,"k":2.43,"E":-3.0},{"p":"bR","b":16,"k":2.5,"E":-2.6},{"p":"bR","b":16,"k":2.57,"E":-2.3},{"p":"bR","b":16,"k":2.66,"E":-1.99},{"p":"bR","b":16,"k":2.732,"E":-1.7},
{"p":"bR","b":17,"k":2.45,"E":-3.0},{"p":"bR","b":17,"k":2.5,"E":-2.8},{"p":"bR","b":17,"k":2.6,"E":-2.82},{"p":"bR","b":17,"k":2.732,"E":-2.9},

{"p":"cL","b":1,"k":0,"E":2.95},{"p":"cL","b":1,"k":0.06,"E":2.75},{"p":"cL","b":1,"k":0.157,"E":2.4},{"p":"cL","b":1,"k":0.287,"E":2.12},{"p":"cL","b":1,"k":0.45,"E":1.95},{"p":"cL","b":1,"k":0.61,"E":1.85},{"p":"cL","b":1,"k":0.81,"E":1.77},{"p":"cL","b":1,"k":1,"E":1.71},{"p":"cL","b":1,"k":1.1,"E":1.62},{"p":"cL","b":1,"k":1.26,"E":1.49},{"p":"cL","b":1,"k":1.4,"E":1.34},{"p":"cL","b":1,"k":1.5,"E":1.18},{"p":"cL","b":1,"k":1.577,"E":1.12},{"p":"cL","b":1,"k":1.69,"E":1.19},{"p":"cL","b":1,"k":1.82,"E":1.34},{"p":"cL","b":1,"k":1.92,"E":1.42},{"p":"cL","b":1,"k":2.05,"E":1.45},{"p":"cL","b":1,"k":2.15,"E":1.47},{"p":"cL","b":1,"k":2.22,"E":1.5},
{"p":"cL","b":2,"k":0.06,"E":3.0},{"p":"cL","b":2,"k":0.19,"E":2.66},{"p":"cL","b":2,"k":0.287,"E":2.35},{"p":"cL","b":2,"k":0.385,"E":2.0},{"p":"cL","b":2,"k":0.48,"E":1.7},{"p":"cL","b":2,"k":0.565,"E":1.57},{"p":"cL","b":2,"k":0.65,"E":1.6},{"p":"cL","b":2,"k":0.8,"E":1.8},{"p":"cL","b":2,"k":0.94,"E":1.98},{"p":"cL","b":2,"k":1,"E":2.03},{"p":"cL","b":2,"k":1.1,"E":2.0},{"p":"cL","b":2,"k":1.25,"E":1.97},{"p":"cL","b":2,"k":1.38,"E":2.05},{"p":"cL","b":2,"k":1.5,"E":2.15},{"p":"cL","b":2,"k":1.577,"E":2.18},{"p":"cL","b":2,"k":1.7,"E":2.1},{"p":"cL","b":2,"k":1.82,"E":2.0},{"p":"cL","b":2,"k":1.95,"E":1.9},{"p":"cL","b":2,"k":2.05,"E":1.85},{"p":"cL","b":2,"k":2.15,"E":1.9},{"p":"cL","b":2,"k":2.25,"E":2.15},{"p":"cL","b":2,"k":2.35,"E":2.45},{"p":"cL","b":2,"k":2.45,"E":2.75},{"p":"cL","b":2,"k":2.55,"E":3.0},
{"p":"cL","b":3,"k":0.55,"E":3.0},{"p":"cL","b":3,"k":0.71,"E":2.66},{"p":"cL","b":3,"k":0.84,"E":2.4},{"p":"cL","b":3,"k":0.94,"E":2.23},{"p":"cL","b":3,"k":1,"E":2.2},{"p":"cL","b":3,"k":1.07,"E":2.25},{"p":"cL","b":3,"k":1.14,"E":2.55},{"p":"cL","b":3,"k":1.2,"E":2.91},{"p":"cL","b":3,"k":1.23,"E":3.0},
{"p":"cL","b":4,"k":0.25,"E":3.0},{"p":"cL","b":4,"k":0.385,"E":2.76},{"p":"cL","b":4,"k":0.55,"E":2.51},{"p":"cL","b":4,"k":0.71,"E":2.31},{"p":"cL","b":4,"k":0.84,"E":2.1},{"p":"cL","b":4,"k":1,"E":2.03},{"p":"cL","b":4,"k":1.1,"E":2.25},{"p":"cL","b":4,"k":1.2,"E":2.45},{"p":"cL","b":4,"k":1.3,"E":2.53},{"p":"cL","b":4,"k":1.45,"E":2.56},{"p":"cL","b":4,"k":1.577,"E":2.56},{"p":"cL","b":4,"k":1.7,"E":2.62},{"p":"cL","b":4,"k":1.82,"E":2.72},{"p":"cL","b":4,"k":1.98,"E":2.67},{"p":"cL","b":4,"k":2.1,"E":2.6},{"p":"cL","b":4,"k":2.25,"E":2.57},{"p":"cL","b":4,"k":2.35,"E":2.62},{"p":"cL","b":4,"k":2.45,"E":2.8},{"p":"cL","b":4,"k":2.55,"E":3.0},
{"p":"cL","b":5,"k":1.4,"E":3.0},{"p":"cL","b":5,"k":1.5,"E":2.94},{"p":"cL","b":5,"k":1.577,"E":2.92},{"p":"cL","b":5,"k":1.65,"E":2.95},{"p":"cL","b":5,"k":1.75,"E":2.93},{"p":"cL","b":5,"k":1.85,"E":3.0},
{"p":"cL","b":6,"k":0,"E":-0.21},{"p":"cL","b":6,"k":0.157,"E":-0.23},{"p":"cL","b":6,"k":0.287,"E":-0.37},{"p":"cL","b":6,"k":0.45,"E":-0.62},{"p":"cL","b":6,"k":0.58,"E":-0.83},{"p":"cL","b":6,"k":0.65,"E":-0.85},{"p":"cL","b":6,"k":0.75,"E":-0.82},{"p":"cL","b":6,"k":0.9,"E":-0.78},{"p":"cL","b":6,"k":1,"E":-0.75},{"p":"cL","b":6,"k":1.07,"E":-0.83},{"p":"cL","b":6,"k":1.14,"E":-1.13},{"p":"cL","b":6,"k":1.2,"E":-1.33},{"p":"cL","b":6,"k":1.35,"E":-1.38},{"p":"cL","b":6,"k":1.48,"E":-1.48},{"p":"cL","b":6,"k":1.577,"E":-1.56},{"p":"cL","b":6,"k":1.72,"E":-1.56},{"p":"cL","b":6,"k":1.82,"E":-1.48},{"p":"cL","b":6,"k":1.92,"E":-1.28},{"p":"cL","b":6,"k":2.05,"E":-1.13},{"p":"cL","b":6,"k":2.18,"E":-1.05},{"p":"cL","b":6,"k":2.31,"E":-1.03},{"p":"cL","b":6,"k":2.44,"E":-0.93},{"p":"cL","b":6,"k":2.57,"E":-0.83},{"p":"cL","b":6,"k":2.732,"E":-0.73},
{"p":"cL","b":7,"k":0,"E":-0.73},{"p":"cL","b":7,"k":0.157,"E":-0.83},{"p":"cL","b":7,"k":0.287,"E":-0.98},{"p":"cL","b":7,"k":0.42,"E":-1.13},{"p":"cL","b":7,"k":0.52,"E":-1.03},{"p":"cL","b":7,"k":0.65,"E":-0.83},{"p":"cL","b":7,"k":0.78,"E":-0.58},{"p":"cL","b":7,"k":0.91,"E":-0.37},{"p":"cL","b":7,"k":1,"E":-0.27},{"p":"cL","b":7,"k":1.2,"E":-0.17},{"p":"cL","b":7,"k":1.4,"E":-0.1},{"p":"cL","b":7,"k":1.577,"E":0},{"p":"cL","b":7,"k":1.69,"E":-0.12},{"p":"cL","b":7,"k":1.82,"E":-0.32},{"p":"cL","b":7,"k":1.98,"E":-0.52},{"p":"cL","b":7,"k":2.1,"E":-0.57},{"p":"cL","b":7,"k":2.25,"E":-0.47},{"p":"cL","b":7,"k":2.44,"E":-0.27},{"p":"cL","b":7,"k":2.57,"E":-0.22},{"p":"cL","b":7,"k":2.732,"E":-0.2},
{"p":"cL","b":8,"k":0,"E":-0.88},{"p":"cL","b":8,"k":0.157,"E":-0.96},{"p":"cL","b":8,"k":0.287,"E":-1.11},{"p":"cL","b":8,"k":0.45,"E":-1.36},{"p":"cL","b":8,"k":0.61,"E":-1.53},{"p":"cL","b":8,"k":0.74,"E":-1.56},{"p":"cL","b":8,"k":0.87,"E":-1.43},{"p":"cL","b":8,"k":1,"E":-1.38},{"p":"cL","b":8,"k":1.14,"E":-1.38},{"p":"cL","b":8,"k":1.2,"E":-1.58},{"p":"cL","b":8,"k":1.27,"E":-1.99},{"p":"cL","b":8,"k":1.33,"E":-2.09},{"p":"cL","b":8,"k":1.43,"E":-2.14},{"p":"cL","b":8,"k":1.5,"E":-2.34},{"p":"cL","b":8,"k":1.577,"E":-2.22},{"p":"cL","b":8,"k":1.72,"E":-2.39},{"p":"cL","b":8,"k":1.82,"E":-2.6},{"p":"cL","b":8,"k":1.92,"E":-2.24},{"p":"cL","b":8,"k":2.05,"E":-1.84},{"p":"cL","b":8,"k":2.25,"E":-1.79},{"p":"cL","b":8,"k":2.44,"E":-1.69},{"p":"cL","b":8,"k":2.6,"E":-1.38},{"p":"cL","b":8,"k":2.732,"E":-0.78},
{"p":"cL","b":9,"k":0,"E":-0.88},{"p":"cL","b":9,"k":0.157,"E":-1.13},{"p":"cL","b":9,"k":0.287,"E":-1.38},{"p":"cL","b":9,"k":0.48,"E":-1.69},{"p":"cL","b":9,"k":0.68,"E":-1.94},{"p":"cL","b":9,"k":0.87,"E":-2.19},{"p":"cL","b":9,"k":1,"E":-2.27},{"p":"cL","b":9,"k":1.14,"E":-2.27},{"p":"cL","b":9,"k":1.3,"E":-2.22},{"p":"cL","b":9,"k":1.45,"E":-2.27},{"p":"cL","b":9,"k":1.577,"E":-2.22},{"p":"cL","b":9,"k":1.72,"E":-2.0},{"p":"cL","b":9,"k":1.85,"E":-1.9},{"p":"cL","b":9,"k":1.98,"E":-1.9},{"p":"cL","b":9,"k":2.1,"E":-1.95},{"p":"cL","b":9,"k":2.25,"E":-1.9},{"p":"cL","b":9,"k":2.4,"E":-1.82},{"p":"cL","b":9,"k":2.55,"E":-1.72},{"p":"cL","b":9,"k":2.732,"E":-1.7},
{"p":"cL","b":10,"k":0,"E":-0.88},{"p":"cL","b":10,"k":0.09,"E":-1.08},{"p":"cL","b":10,"k":0.19,"E":-1.58},{"p":"cL","b":10,"k":0.287,"E":-2.14},{"p":"cL","b":10,"k":0.38,"E":-3.0},
{"p":"cL","b":11,"k":0,"E":-1.69},{"p":"cL","b":11,"k":0.124,"E":-1.74},{"p":"cL","b":11,"k":0.287,"E":-1.99},{"p":"cL","b":11,"k":0.45,"E":-2.19},{"p":"cL","b":11,"k":0.61,"E":-2.39},{"p":"cL","b":11,"k":0.81,"E":-2.54},{"p":"cL","b":11,"k":1,"E":-2.59},{"p":"cL","b":11,"k":1.14,"E":-2.64},{"p":"cL","b":11,"k":1.27,"E":-2.75},{"p":"cL","b":11,"k":1.4,"E":-3.0},
{"p":"cL","b":12,"k":0,"E":-2.19},{"p":"cL","b":12,"k":0.157,"E":-2.14},{"p":"cL","b":12,"k":0.35,"E":-2.04},{"p":"cL","b":12,"k":0.45,"E":-2.1},{"p":"cL","b":12,"k":0.61,"E":-2.35},{"p":"cL","b":12,"k":0.8,"E":-2.65},{"p":"cL","b":12,"k":0.95,"E":-2.85},{"p":"cL","b":12,"k":1.05,"E":-3.0},
{"p":"cL","b":13,"k":0,"E":-0.9},{"p":"cL","b":13,"k":0.06,"E":-1.2},{"p":"cL","b":13,"k":0.12,"E":-1.7},{"p":"cL","b":13,"k":0.18,"E":-2.3},{"p":"cL","b":13,"k":0.24,"E":-3.0},
{"p":"cL","b":14,"k":2.31,"E":-3.0},{"p":"cL","b":14,"k":2.37,"E":-2.6},{"p":"cL","b":14,"k":2.44,"E":-2.14},{"p":"cL","b":14,"k":2.5,"E":-1.7},{"p":"cL","b":14,"k":2.57,"E":-1.33},{"p":"cL","b":14,"k":2.64,"E":-1.0},{"p":"cL","b":14,"k":2.732,"E":-0.78},
{"p":"cL","b":15,"k":2.37,"E":-3.0},{"p":"cL","b":15,"k":2.41,"E":-2.58},{"p":"cL","b":15,"k":2.47,"E":-2.18},{"p":"cL","b":15,"k":2.53,"E":-1.68},{"p":"cL","b":15,"k":2.6,"E":-1.3},{"p":"cL","b":15,"k":2.67,"E":-0.93},{"p":"cL","b":15,"k":2.732,"E":-0.76},
{"p":"cL","b":16,"k":2.38,"E":-3.0},{"p":"cL","b":16,"k":2.41,"E":-2.49},{"p":"cL","b":16,"k":2.47,"E":-1.99},{"p":"cL","b":16,"k":2.57,"E":-1.38},{"p":"cL","b":16,"k":2.67,"E":-0.88},{"p":"cL","b":16,"k":2.732,"E":-0.74},
{"p":"cL","b":17,"k":2.4,"E":-3.0},{"p":"cL","b":17,"k":2.46,"E":-2.49},{"p":"cL","b":17,"k":2.53,"E":-2.29},{"p":"cL","b":17,"k":2.63,"E":-2.19},{"p":"cL","b":17,"k":2.732,"E":-2.19},
{"p":"cL","b":18,"k":2.34,"E":1.8},{"p":"cL","b":18,"k":2.41,"E":2.1},{"p":"cL","b":18,"k":2.48,"E":2.4},{"p":"cL","b":18,"k":2.54,"E":2.66},{"p":"cL","b":18,"k":2.61,"E":2.96},{"p":"cL","b":18,"k":2.63,"E":3.0},
{"p":"cL","b":19,"k":1.79,"E":-3.0},{"p":"cL","b":19,"k":1.92,"E":-2.9},{"p":"cL","b":19,"k":2.05,"E":-2.95},{"p":"cL","b":19,"k":2.1,"E":-3.0},

{"p":"cR","b":1,"k":0.28,"E":3.0},{"p":"cR","b":1,"k":0.4,"E":2.65},{"p":"cR","b":1,"k":0.57,"E":2.4},{"p":"cR","b":1,"k":0.73,"E":2.3},{"p":"cR","b":1,"k":0.87,"E":2.25},{"p":"cR","b":1,"k":1,"E":2.23},{"p":"cR","b":1,"k":1.13,"E":2.1},{"p":"cR","b":1,"k":1.26,"E":2.0},{"p":"cR","b":1,"k":1.39,"E":1.8},{"p":"cR","b":1,"k":1.49,"E":1.6},{"p":"cR","b":1,"k":1.577,"E":1.49},{"p":"cR","b":1,"k":1.72,"E":1.64},{"p":"cR","b":1,"k":1.85,"E":1.8},{"p":"cR","b":1,"k":1.98,"E":1.98},{"p":"cR","b":1,"k":2.1,"E":2.0},{"p":"cR","b":1,"k":2.2,"E":2.1},{"p":"cR","b":1,"k":2.3,"E":2.35},{"p":"cR","b":1,"k":2.43,"E":2.81},{"p":"cR","b":1,"k":2.5,"E":3.0},
{"p":"cR","b":2,"k":0.15,"E":3.0},{"p":"cR","b":2,"k":0.28,"E":2.66},{"p":"cR","b":2,"k":0.41,"E":2.3},{"p":"cR","b":2,"k":0.54,"E":2.05},{"p":"cR","b":2,"k":0.6,"E":2.03},{"p":"cR","b":2,"k":0.7,"E":2.12},{"p":"cR","b":2,"k":0.8,"E":2.3},{"p":"cR","b":2,"k":0.93,"E":2.55},{"p":"cR","b":2,"k":1,"E":2.61},{"p":"cR","b":2,"k":1.1,"E":2.59},{"p":"cR","b":2,"k":1.2,"E":2.55},{"p":"cR","b":2,"k":1.32,"E":2.54},{"p":"cR","b":2,"k":1.45,"E":2.66},{"p":"cR","b":2,"k":1.577,"E":2.81},{"p":"cR","b":2,"k":1.72,"E":2.66},{"p":"cR","b":2,"k":1.85,"E":2.5},{"p":"cR","b":2,"k":1.98,"E":2.41},{"p":"cR","b":2,"k":2.08,"E":2.41},{"p":"cR","b":2,"k":2.18,"E":2.56},{"p":"cR","b":2,"k":2.27,"E":2.81},{"p":"cR","b":2,"k":2.33,"E":3.0},
{"p":"cR","b":3,"k":0.3,"E":3.0},{"p":"cR","b":3,"k":0.45,"E":2.75},{"p":"cR","b":3,"k":0.6,"E":2.55},{"p":"cR","b":3,"k":0.78,"E":2.38},{"p":"cR","b":3,"k":0.9,"E":2.3},{"p":"cR","b":3,"k":1,"E":2.28},{"p":"cR","b":3,"k":1.06,"E":2.45},{"p":"cR","b":3,"k":1.12,"E":2.8},{"p":"cR","b":3,"k":1.16,"E":3.0},
{"p":"cR","b":4,"k":0.9,"E":3.0},{"p":"cR","b":4,"k":0.96,"E":2.86},{"p":"cR","b":4,"k":1,"E":2.84},{"p":"cR","b":4,"k":1.05,"E":2.86},{"p":"cR","b":4,"k":1.1,"E":3.0},
{"p":"cR","b":5,"k":0,"E":-0.3},{"p":"cR","b":5,"k":0.147,"E":-0.33},{"p":"cR","b":5,"k":0.31,"E":-0.52},{"p":"cR","b":5,"k":0.47,"E":-0.83},{"p":"cR","b":5,"k":0.6,"E":-0.98},{"p":"cR","b":5,"k":0.7,"E":-1.0},{"p":"cR","b":5,"k":0.85,"E":-0.98},{"p":"cR","b":5,"k":1,"E":-0.97},{"p":"cR","b":5,"k":1.06,"E":-1.13},{"p":"cR","b":5,"k":1.13,"E":-1.48},{"p":"cR","b":5,"k":1.19,"E":-1.74},{"p":"cR","b":5,"k":1.32,"E":-1.79},{"p":"cR","b":5,"k":1.45,"E":-1.86},{"p":"cR","b":5,"k":1.577,"E":-1.91},{"p":"cR","b":5,"k":1.72,"E":-1.91},{"p":"cR","b":5,"k":1.81,"E":-1.86},{"p":"cR","b":5,"k":1.91,"E":-1.64},{"p":"cR","b":5,"k":2.04,"E":-1.43},{"p":"cR","b":5,"k":2.17,"E":-1.33},{"p":"cR","b":5,"k":2.3,"E":-1.23},{"p":"cR","b":5,"k":2.43,"E":-1.13},{"p":"cR","b":5,"k":2.57,"E":-1.03},{"p":"cR","b":5,"k":2.732,"E":-0.91},
{"p":"cR","b":6,"k":0,"E":-0.91},{"p":"cR","b":6,"k":0.147,"E":-1.06},{"p":"cR","b":6,"k":0.28,"E":-1.16},{"p":"cR","b":6,"k":0.44,"E":-1.33},{"p":"cR","b":6,"k":0.54,"E":-1.28},{"p":"cR","b":6,"k":0.64,"E":-1.03},{"p":"cR","b":6,"k":0.77,"E":-0.73},{"p":"cR","b":6,"k":0.9,"E":-0.52},{"p":"cR","b":6,"k":1,"E":-0.42},{"p":"cR","b":6,"k":1.2,"E":-0.32},{"p":"cR","b":6,"k":1.39,"E":-0.17},{"p":"cR","b":6,"k":1.577,"E":0},{"p":"cR","b":6,"k":1.72,"E":-0.17},{"p":"cR","b":6,"k":1.85,"E":-0.47},{"p":"cR","b":6,"k":1.98,"E":-0.67},{"p":"cR","b":6,"k":2.1,"E":-0.73},{"p":"cR","b":6,"k":2.24,"E":-0.67},{"p":"cR","b":6,"k":2.37,"E":-0.52},{"p":"cR","b":6,"k":2.5,"E":-0.37},{"p":"cR","b":6,"k":2.63,"E":-0.31},{"p":"cR","b":6,"k":2.732,"E":-0.3},
{"p":"cR","b":7,"k":0,"E":-0.93},{"p":"cR","b":7,"k":0.147,"E":-1.13},{"p":"cR","b":7,"k":0.28,"E":-1.33},{"p":"cR","b":7,"k":0.44,"E":-1.58},{"p":"cR","b":7,"k":0.6,"E":-1.79},{"p":"cR","b":7,"k":0.735,"E":-1.81},{"p":"cR","b":7,"k":0.87,"E":-1.69},{"p":"cR","b":7,"k":1,"E":-1.66},{"p":"cR","b":7,"k":1.13,"E":-1.69},{"p":"cR","b":7,"k":1.26,"E":-1.99},{"p":"cR","b":7,"k":1.39,"E":-2.39},{"p":"cR","b":7,"k":1.52,"E":-2.54},{"p":"cR","b":7,"k":1.577,"E":-2.49},{"p":"cR","b":7,"k":1.72,"E":-2.75},{"p":"cR","b":7,"k":1.81,"E":-2.85},{"p":"cR","b":7,"k":1.91,"E":-2.44},{"p":"cR","b":7,"k":2.04,"E":-1.94},{"p":"cR","b":7,"k":2.17,"E":-1.64},{"p":"cR","b":7,"k":2.3,"E":-1.54},{"p":"cR","b":7,"k":2.43,"E":-1.38},{"p":"cR","b":7,"k":2.57,"E":-1.18},{"p":"cR","b":7,"k":2.7,"E":-0.93},{"p":"cR","b":7,"k":2.732,"E":-0.91},
{"p":"cR","b":8,"k":0,"E":-1.99},{"p":"cR","b":8,"k":0.147,"E":-2.09},{"p":"cR","b":8,"k":0.28,"E":-2.24},{"p":"cR","b":8,"k":0.44,"E":-2.39},{"p":"cR","b":8,"k":0.6,"E":-2.49},{"p":"cR","b":8,"k":0.77,"E":-2.57},{"p":"cR","b":8,"k":1,"E":-2.59},{"p":"cR","b":8,"k":1.2,"E":-2.57},{"p":"cR","b":8,"k":1.32,"E":-2.49},{"p":"cR","b":8,"k":1.45,"E":-2.39},{"p":"cR","b":8,"k":1.577,"E":-2.37},{"p":"cR","b":8,"k":1.72,"E":-2.2},{"p":"cR","b":8,"k":1.85,"E":-2.15},{"p":"cR","b":8,"k":1.98,"E":-2.2},{"p":"cR","b":8,"k":2.11,"E":-2.25},{"p":"cR","b":8,"k":2.24,"E":-2.3},{"p":"cR","b":8,"k":2.37,"E":-2.2},{"p":"cR","b":8,"k":2.57,"E":-2.05},{"p":"cR","b":8,"k":2.732,"E":-1.99},
{"p":"cR","b":9,"k":0,"E":-0.93},{"p":"cR","b":9,"k":0.08,"E":-1.18},{"p":"cR","b":9,"k":0.147,"E":-1.68},{"p":"cR","b":9,"k":0.21,"E":-2.24},{"p":"cR","b":9,"k":0.28,"E":-3.0},
{"p":"cR","b":10,"k":0,"E":-0.95},{"p":"cR","b":10,"k":0.115,"E":-1.25},{"p":"cR","b":10,"k":0.21,"E":-1.5},{"p":"cR","b":10,"k":0.31,"E":-1.75},{"p":"cR","b":10,"k":0.45,"E":-2.1},{"p":"cR","b":10,"k":0.6,"E":-2.45},{"p":"cR","b":10,"k":0.75,"E":-2.75},{"p":"cR","b":10,"k":0.88,"E":-3.0},
{"p":"cR","b":11,"k":0,"E":-2.65},{"p":"cR","b":11,"k":0.115,"E":-2.55},{"p":"cR","b":11,"k":0.245,"E":-2.5},{"p":"cR","b":11,"k":0.376,"E":-2.65},{"p":"cR","b":11,"k":0.5,"E":-2.85},{"p":"cR","b":11,"k":0.6,"E":-3.0},
{"p":"cR","b":12,"k":2.36,"E":-3.0},{"p":"cR","b":12,"k":2.39,"E":-2.8},{"p":"cR","b":12,"k":2.46,"E":-2.39},{"p":"cR","b":12,"k":2.52,"E":-1.99},{"p":"cR","b":12,"k":2.59,"E":-1.63},{"p":"cR","b":12,"k":2.65,"E":-1.23},{"p":"cR","b":12,"k":2.732,"E":-0.93},
{"p":"cR","b":13,"k":2.42,"E":-3.0},{"p":"cR","b":13,"k":2.48,"E":-2.5},{"p":"cR","b":13,"k":2.55,"E":-1.99},{"p":"cR","b":13,"k":2.62,"E":-1.58},{"p":"cR","b":13,"k":2.68,"E":-1.23},{"p":"cR","b":13,"k":2.732,"E":-0.98},
{"p":"cR","b":14,"k":2.47,"E":-3.0},{"p":"cR","b":14,"k":2.53,"E":-2.75},{"p":"cR","b":14,"k":2.63,"E":-2.6},{"p":"cR","b":14,"k":2.732,"E":-2.5},
{"p":"cR","b":15,"k":1.45,"E":-3.0},{"p":"cR","b":15,"k":1.52,"E":-2.85},{"p":"cR","b":15,"k":1.577,"E":-2.8},{"p":"cR","b":15,"k":1.65,"E":-2.9},{"p":"cR","b":15,"k":1.7,"E":-3.0}
  ]
},
"columns": 2,
"spacing": {"row": 41, "column": 24},
"bounds": "flush",
"concat": [
 {"width": 279, "height": 396, "title": {"text": "PBE"},
  "layer": [
   {"data": {"name": "bands"}, "transform": [{"filter": "datum.p === 'aL'"}],
    "mark": {"type": "line", "clip": true, "interpolate": "monotone", "strokeWidth": 3, "color": "black"},
    "encoding": {
      "x": {"field": "k", "type": "quantitative", "scale": {"domain": [0, 2.732], "nice": false, "zero": false}, "axis": {"values": [0, 1, 1.5774, 2.732], "labels": false, "ticks": false, "title": null}},
      "y": {"field": "E", "type": "quantitative", "scale": {"domain": [-3, 3], "nice": false, "zero": false}, "axis": {"values": [-3, -2, -1, 0, 1, 2, 3], "format": "d", "tickSize": -8, "labelPadding": 15, "labelFont": "Liberation Serif", "titleFont": "Liberation Serif", "title": "Energy (eV)", "titlePadding": 5}},
      "detail": {"field": "b", "type": "nominal"}}},
   {"data": {"name": "kpts"}, "mark": {"type": "rule", "color": "black", "strokeWidth": 1.3}, "encoding": {"x": {"field": "k", "type": "quantitative"}}},
   {"data": {"name": "zero"}, "mark": {"type": "rule", "color": "black", "strokeWidth": 1, "strokeDash": [5, 3]}, "encoding": {"y": {"field": "E", "type": "quantitative"}}},
   {"data": {"name": "tags"}, "transform": [{"filter": "datum.row === 'a'"}], "mark": {"type": "text", "clip": false, "align": "center", "baseline": "middle", "dx": -54, "dy": 7, "fontSize": 26, "font": "Liberation Serif", "color": "black"},
    "encoding": {"x": {"field": "k", "type": "quantitative"}, "y": {"field": "E", "type": "quantitative"}, "text": {"field": "t"}}}
  ]},
 {"width": 280, "height": 396, "title": {"text": "HSE06"},
  "layer": [
   {"data": {"name": "bands"}, "transform": [{"filter": "datum.p === 'aR'"}],
    "mark": {"type": "line", "clip": true, "interpolate": "monotone", "strokeWidth": 3, "color": "black", "strokeDash": [9, 4]},
    "encoding": {
      "x": {"field": "k", "type": "quantitative", "scale": {"domain": [0, 2.732], "nice": false, "zero": false}, "axis": {"values": [0, 1, 1.5774, 2.732], "labels": false, "ticks": false, "title": null}},
      "y": {"field": "E", "type": "quantitative", "scale": {"domain": [-3, 3], "nice": false, "zero": false}, "axis": {"values": [-3, -2, -1, 0, 1, 2, 3], "tickSize": -8, "labels": false, "title": null}},
      "detail": {"field": "b", "type": "nominal"}}},
   {"data": {"name": "kpts"}, "mark": {"type": "rule", "color": "black", "strokeWidth": 1.3}, "encoding": {"x": {"field": "k", "type": "quantitative"}}},
   {"data": {"name": "zero"}, "mark": {"type": "rule", "color": "black", "strokeWidth": 1, "strokeDash": [5, 3]}, "encoding": {"y": {"field": "E", "type": "quantitative"}}},
   {"data": {"name": "names"}, "transform": [{"filter": "datum.row === 'a'"}], "mark": {"type": "text", "clip": false, "align": "left", "baseline": "middle", "fontSize": 25, "font": "Liberation Serif", "color": "white", "stroke": "white", "strokeWidth": 14, "strokeJoin": "round"},
    "encoding": {"x": {"field": "k", "type": "quantitative"}, "y": {"field": "E", "type": "quantitative"}, "text": {"field": "t"}}},
   {"data": {"name": "names"}, "transform": [{"filter": "datum.row === 'a'"}], "mark": {"type": "text", "clip": false, "align": "left", "baseline": "middle", "fontSize": 25, "font": "Liberation Serif", "color": "black"},
    "encoding": {"x": {"field": "k", "type": "quantitative"}, "y": {"field": "E", "type": "quantitative"}, "text": {"field": "t"}}}
  ]},
 {"width": 279, "height": 396,
  "layer": [
   {"data": {"name": "bands"}, "transform": [{"filter": "datum.p === 'bL'"}],
    "mark": {"type": "line", "clip": true, "interpolate": "monotone", "strokeWidth": 3, "color": "black"},
    "encoding": {
      "x": {"field": "k", "type": "quantitative", "scale": {"domain": [0, 2.732], "nice": false, "zero": false}, "axis": {"values": [0, 1, 1.5774, 2.732], "labels": false, "ticks": false, "title": null}},
      "y": {"field": "E", "type": "quantitative", "scale": {"domain": [-3, 3], "nice": false, "zero": false}, "axis": {"values": [-3, -2, -1, 0, 1, 2, 3], "format": "d", "tickSize": -8, "labelPadding": 15, "labelFont": "Liberation Serif", "titleFont": "Liberation Serif", "title": "Energy (eV)", "titlePadding": 5}},
      "detail": {"field": "b", "type": "nominal"}}},
   {"data": {"name": "kpts"}, "mark": {"type": "rule", "color": "black", "strokeWidth": 1.3}, "encoding": {"x": {"field": "k", "type": "quantitative"}}},
   {"data": {"name": "zero"}, "mark": {"type": "rule", "color": "black", "strokeWidth": 1, "strokeDash": [5, 3]}, "encoding": {"y": {"field": "E", "type": "quantitative"}}},
   {"data": {"name": "tags"}, "transform": [{"filter": "datum.row === 'b'"}], "mark": {"type": "text", "clip": false, "align": "center", "baseline": "middle", "dx": -54, "dy": 7, "fontSize": 26, "font": "Liberation Serif", "color": "black"},
    "encoding": {"x": {"field": "k", "type": "quantitative"}, "y": {"field": "E", "type": "quantitative"}, "text": {"field": "t"}}}
  ]},
 {"width": 280, "height": 396,
  "layer": [
   {"data": {"name": "bands"}, "transform": [{"filter": "datum.p === 'bR'"}],
    "mark": {"type": "line", "clip": true, "interpolate": "monotone", "strokeWidth": 3, "color": "black", "strokeDash": [9, 4]},
    "encoding": {
      "x": {"field": "k", "type": "quantitative", "scale": {"domain": [0, 2.732], "nice": false, "zero": false}, "axis": {"values": [0, 1, 1.5774, 2.732], "labels": false, "ticks": false, "title": null}},
      "y": {"field": "E", "type": "quantitative", "scale": {"domain": [-3, 3], "nice": false, "zero": false}, "axis": {"values": [-3, -2, -1, 0, 1, 2, 3], "tickSize": -8, "labels": false, "title": null}},
      "detail": {"field": "b", "type": "nominal"}}},
   {"data": {"name": "kpts"}, "mark": {"type": "rule", "color": "black", "strokeWidth": 1.3}, "encoding": {"x": {"field": "k", "type": "quantitative"}}},
   {"data": {"name": "zero"}, "mark": {"type": "rule", "color": "black", "strokeWidth": 1, "strokeDash": [5, 3]}, "encoding": {"y": {"field": "E", "type": "quantitative"}}},
   {"data": {"name": "names"}, "transform": [{"filter": "datum.row === 'b'"}], "mark": {"type": "text", "clip": false, "align": "left", "baseline": "middle", "fontSize": 25, "font": "Liberation Serif", "color": "white", "stroke": "white", "strokeWidth": 14, "strokeJoin": "round"},
    "encoding": {"x": {"field": "k", "type": "quantitative"}, "y": {"field": "E", "type": "quantitative"}, "text": {"field": "t"}}},
   {"data": {"name": "names"}, "transform": [{"filter": "datum.row === 'b'"}], "mark": {"type": "text", "clip": false, "align": "left", "baseline": "middle", "fontSize": 25, "font": "Liberation Serif", "color": "black"},
    "encoding": {"x": {"field": "k", "type": "quantitative"}, "y": {"field": "E", "type": "quantitative"}, "text": {"field": "t"}}}
  ]},
 {"width": 279, "height": 396,
  "layer": [
   {"data": {"name": "bands"}, "transform": [{"filter": "datum.p === 'cL'"}],
    "mark": {"type": "line", "clip": true, "interpolate": "monotone", "strokeWidth": 3, "color": "black"},
    "encoding": {
      "x": {"field": "k", "type": "quantitative", "scale": {"domain": [0, 2.732], "nice": false, "zero": false}, "axis": {"values": [0, 1, 1.5774, 2.732], "ticks": false, "title": null, "labelFlush": false, "labelOverlap": false, "labelBound": false, "labelPadding": 3, "labelFontSize": 26, "labelFont": "Liberation Serif", "labelExpr": "datum.value < 0.5 || datum.value > 2.5 ? 'Γ' : (datum.value < 1.2 ? 'M' : 'K')"}},
      "y": {"field": "E", "type": "quantitative", "scale": {"domain": [-3, 3], "nice": false, "zero": false}, "axis": {"values": [-3, -2, -1, 0, 1, 2, 3], "format": "d", "tickSize": -8, "labelPadding": 15, "labelFont": "Liberation Serif", "titleFont": "Liberation Serif", "title": "Energy (eV)", "titlePadding": 5}},
      "detail": {"field": "b", "type": "nominal"}}},
   {"data": {"name": "kpts"}, "mark": {"type": "rule", "color": "black", "strokeWidth": 1.3}, "encoding": {"x": {"field": "k", "type": "quantitative"}}},
   {"data": {"name": "zero"}, "mark": {"type": "rule", "color": "black", "strokeWidth": 1, "strokeDash": [5, 3]}, "encoding": {"y": {"field": "E", "type": "quantitative"}}},
   {"data": {"name": "tags"}, "transform": [{"filter": "datum.row === 'c'"}], "mark": {"type": "text", "clip": false, "align": "center", "baseline": "middle", "dx": -54, "dy": 7, "fontSize": 26, "font": "Liberation Serif", "color": "black"},
    "encoding": {"x": {"field": "k", "type": "quantitative"}, "y": {"field": "E", "type": "quantitative"}, "text": {"field": "t"}}}
  ]},
 {"width": 280, "height": 396,
  "layer": [
   {"data": {"name": "bands"}, "transform": [{"filter": "datum.p === 'cR'"}],
    "mark": {"type": "line", "clip": true, "interpolate": "monotone", "strokeWidth": 3, "color": "black", "strokeDash": [9, 4]},
    "encoding": {
      "x": {"field": "k", "type": "quantitative", "scale": {"domain": [0, 2.732], "nice": false, "zero": false}, "axis": {"values": [0, 1, 1.5774, 2.732], "ticks": false, "title": null, "labelFlush": false, "labelOverlap": false, "labelBound": false, "labelPadding": 3, "labelFontSize": 26, "labelFont": "Liberation Serif", "labelExpr": "datum.value < 0.5 || datum.value > 2.5 ? 'Γ' : (datum.value < 1.2 ? 'M' : 'K')"}},
      "y": {"field": "E", "type": "quantitative", "scale": {"domain": [-3, 3], "nice": false, "zero": false}, "axis": {"values": [-3, -2, -1, 0, 1, 2, 3], "tickSize": -8, "labels": false, "title": null}},
      "detail": {"field": "b", "type": "nominal"}}},
   {"data": {"name": "kpts"}, "mark": {"type": "rule", "color": "black", "strokeWidth": 1.3}, "encoding": {"x": {"field": "k", "type": "quantitative"}}},
   {"data": {"name": "zero"}, "mark": {"type": "rule", "color": "black", "strokeWidth": 1, "strokeDash": [5, 3]}, "encoding": {"y": {"field": "E", "type": "quantitative"}}},
   {"data": {"name": "names"}, "transform": [{"filter": "datum.row === 'c'"}], "mark": {"type": "text", "clip": false, "align": "left", "baseline": "middle", "fontSize": 25, "font": "Liberation Serif", "color": "white", "stroke": "white", "strokeWidth": 14, "strokeJoin": "round"},
    "encoding": {"x": {"field": "k", "type": "quantitative"}, "y": {"field": "E", "type": "quantitative"}, "text": {"field": "t"}}},
   {"data": {"name": "names"}, "transform": [{"filter": "datum.row === 'c'"}], "mark": {"type": "text", "clip": false, "align": "left", "baseline": "middle", "fontSize": 25, "font": "Liberation Serif", "color": "black"},
    "encoding": {"x": {"field": "k", "type": "quantitative"}, "y": {"field": "E", "type": "quantitative"}, "text": {"field": "t"}}}
  ]}
]
}
